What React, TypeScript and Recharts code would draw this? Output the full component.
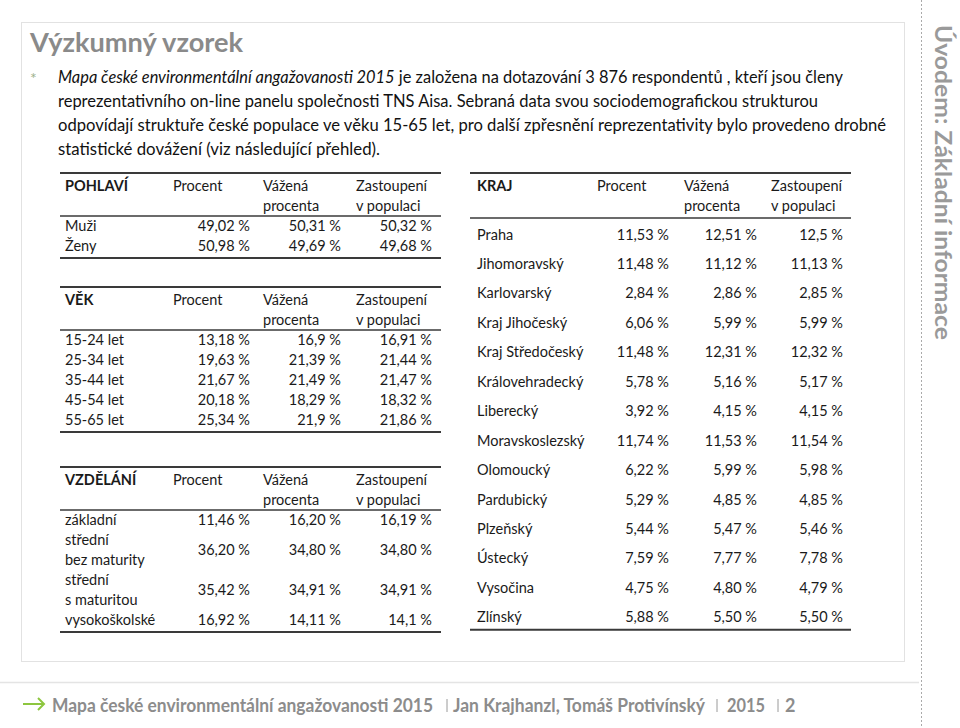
import React from "react";
import { Surface, Layer } from "recharts";

// --- data ---
const HEADER_COLS = [
  ["Procent"],
  ["Vážená", "procenta"],
  ["Zastoupení", "v populaci"],
];

const GENDER_LABELS = [["Muži"], ["Ženy"]];
const GENDER_PCT = ["49,02 %", "50,98 %"];
const GENDER_WEIGHTED = ["50,31 %", "49,69 %"];
const GENDER_POP = ["50,32 %", "49,68 %"];

const AGE_LABELS = [["15-24 let"], ["25-34 let"], ["35-44 let"], ["45-54 let"], ["55-65 let"]];
const AGE_PCT = ["13,18 %", "19,63 %", "21,67 %", "20,18 %", "25,34 %"];
const AGE_WEIGHTED = ["16,9 %", "21,39 %", "21,49 %", "18,29 %", "21,9 %"];
const AGE_POP = ["16,91 %", "21,44 %", "21,47 %", "18,32 %", "21,86 %"];

const EDU_LABELS = [["základní"], ["střední", "bez maturity"], ["střední", "s maturitou"], ["vysokoškolské"]];
const EDU_PCT = ["11,46 %", "36,20 %", "35,42 %", "16,92 %"];
const EDU_WEIGHTED = ["16,20 %", "34,80 %", "34,91 %", "14,11 %"];
const EDU_POP = ["16,19 %", "34,80 %", "34,91 %", "14,1 %"];

const REGION_LABELS = [
  ["Praha"], ["Jihomoravský"], ["Karlovarský"], ["Kraj Jihočeský"], ["Kraj Středočeský"],
  ["Královehradecký"], ["Liberecký"], ["Moravskoslezský"], ["Olomoucký"], ["Pardubický"],
  ["Plzeňský"], ["Ústecký"], ["Vysočina"], ["Zlínský"],
];
const REGION_PCT = ["11,53 %", "11,48 %", "2,84 %", "6,06 %", "11,48 %", "5,78 %", "3,92 %", "11,74 %", "6,22 %", "5,29 %", "5,44 %", "7,59 %", "4,75 %", "5,88 %"];
const REGION_WEIGHTED = ["12,51 %", "11,12 %", "2,86 %", "5,99 %", "12,31 %", "5,16 %", "4,15 %", "11,53 %", "5,99 %", "4,85 %", "5,47 %", "7,77 %", "4,80 %", "5,50 %"];
const REGION_POP = ["12,5 %", "11,13 %", "2,85 %", "5,99 %", "12,32 %", "5,17 %", "4,15 %", "11,54 %", "5,98 %", "4,85 %", "5,46 %", "7,78 %", "4,79 %", "5,50 %"];

const FOOTER_PARTS = ["Mapa české environmentální angažovanosti 2015", "Jan Krajhanzl, Tomáš Protivínský", "2015", "2"];

const FONT = "Lato, 'Noto Sans', sans-serif";
const INK = "#1a1a1a";

type TableProps = {
  title: string;
  top: number;
  x0: number;
  x1: number;
  labelX: number;
  headX: number[];
  valRight: number[];
  labels: string[][];
  cols: string[][];
  headLineGap: number;
  firstRow: number;
  pitch: number;
  lineStep: number;
};

function StatTable(p: TableProps) {
  let cy = p.top + p.firstRow;
  const rows: React.ReactNode[] = [];
  p.labels.forEach((lab, i) => {
    const n = lab.length;
    const mid = cy + ((n - 1) * p.lineStep) / 2;
    rows.push(
      <g key={i}>
        {lab.map((t, j) => (
          <text key={j} x={p.labelX} y={cy + j * p.lineStep} dominantBaseline="central" fill={INK}>
            {t}
          </text>
        ))}
        {p.cols.map((c, k) => (
          <text key={"v" + k} x={p.valRight[k]} y={mid} textAnchor="end" dominantBaseline="central" fill={INK}>
            {c[i]}
          </text>
        ))}
      </g>
    );
    cy += n === 1 ? p.pitch : n * p.lineStep;
  });
  const lastCenter = cy - p.pitch;
  const bottom = lastCenter + 13;
  return (
    <Layer style={{ fontFamily: FONT, fontSize: 14.5 }}>
      <line x1={p.x0} x2={p.x1} y1={p.top} y2={p.top} stroke="#3a3a3a" strokeWidth={2} />
      <text x={p.labelX} y={p.top + 12} dominantBaseline="central" fontWeight={700} fill={INK}>
        {p.title}
      </text>
      {HEADER_COLS.map((h, k) =>
        h.map((t, j) => (
          <text key={k + "-" + j} x={p.headX[k]} y={p.top + 12 + j * 20} dominantBaseline="central" fill={INK}>
            {t}
          </text>
        ))
      )}
      <line x1={p.x0} x2={p.x1} y1={p.top + p.headLineGap} y2={p.top + p.headLineGap} stroke="#3a3a3a" strokeWidth={1.5} />
      {rows}
      <line x1={p.x0} x2={p.x1} y1={bottom} y2={bottom} stroke="#3a3a3a" strokeWidth={2} />
    </Layer>
  );
}

const LEFT = { x0: 60, x1: 441, labelX: 65, headX: [173, 263, 356], valRight: [250, 341, 432], headLineGap: 43, firstRow: 52, pitch: 20, lineStep: 20 };
const RIGHT = { x0: 470, x1: 851, labelX: 477, headX: [597, 684, 771], valRight: [669, 757, 843], headLineGap: 45, firstRow: 61, pitch: 29.45, lineStep: 20 };

// footer pieces: start x, fitted width
const FOOTER_X = [52, 453, 727, 785];
const FOOTER_W = [381, 252, 38, 0];
const FOOTER_SEP = [447, 717, 778];

export default function App() {
  return (
    <div style={{ position: "absolute", left: 0, top: 0, width: 960, height: 728, background: "#fff" }}>
      <Surface width={960} height={728} viewBox={{ x: 0, y: 0, width: 960, height: 728 }}>
        {/* frame */}
        <rect x={21.5} y={22.5} width={883} height={639} fill="none" stroke="#e2e2e2" strokeWidth={1} />
        <line x1={0} x2={919} y1={682.5} y2={682.5} stroke="#e4e4e4" strokeWidth={1.5} />
        <line x1={921.5} x2={921.5} y1={0} y2={728} stroke="#aaaaaa" strokeWidth={1} strokeDasharray="2 2" />

        {/* title */}
        <text x={30} y={52} fontFamily={FONT} fontWeight={700} fontSize={27} fill="#8a8a8a" textLength={213} lengthAdjust="spacingAndGlyphs">
          Výzkumný vzorek
        </text>
        <text x={30} y={84} fontFamily={FONT} fontSize={16} fill="#9db38c">*</text>

        <g fontFamily={FONT} fontSize={17} fill="#111">
          <text x={58} y={83} textLength={785} lengthAdjust="spacingAndGlyphs">
            <tspan fontStyle="italic">Mapa české environmentální angažovanosti 2015</tspan>
            <tspan> je založena na dotazování 3 876 respondentů , kteří jsou členy</tspan>
          </text>
          <text x={58} y={107} textLength={760} lengthAdjust="spacingAndGlyphs">
            reprezentativního on-line panelu společnosti TNS Aisa. Sebraná data svou sociodemografickou strukturou
          </text>
          <text x={58} y={131} textLength={828} lengthAdjust="spacingAndGlyphs">
            odpovídají struktuře české populace ve věku 15-65 let, pro další zpřesnění reprezentativity bylo provedeno drobné
          </text>
          <text x={58} y={155} textLength={322} lengthAdjust="spacingAndGlyphs">
            statistické dovážení (viz následující přehled).
          </text>
        </g>

        <StatTable title="POHLAVÍ" top={173} labels={GENDER_LABELS} cols={[GENDER_PCT, GENDER_WEIGHTED, GENDER_POP]} {...LEFT} />
        <StatTable title="VĚK" top={287} labels={AGE_LABELS} cols={[AGE_PCT, AGE_WEIGHTED, AGE_POP]} {...LEFT} />
        <StatTable title="VZDĚLÁNÍ" top={467} labels={EDU_LABELS} cols={[EDU_PCT, EDU_WEIGHTED, EDU_POP]} {...LEFT} />
        <StatTable title="KRAJ" top={173} labels={REGION_LABELS} cols={[REGION_PCT, REGION_WEIGHTED, REGION_POP]} {...RIGHT} />

        {/* side label */}
        <text
          transform="translate(935,25) rotate(90)"
          fontFamily={FONT}
          fontWeight={700}
          fontSize={22}
          fill="#9a9a9a"
          textLength={315}
          lengthAdjust="spacingAndGlyphs"
        >
          Úvodem: Základní informace
        </text>

        {/* footer */}
        <path d="M23 704 H44 M38 698 L44 704 L38 710" stroke="#8dc63f" strokeWidth={2} fill="none" />
        {FOOTER_PARTS.map((t, i) => (
          <text
            key={i}
            x={FOOTER_X[i]}
            y={712}
            fontFamily={FONT}
            fontWeight={700}
            fontSize={18}
            fill="#8c8c8c"
            textLength={FOOTER_W[i] || undefined}
            lengthAdjust="spacingAndGlyphs"
          >
            {t}
          </text>
        ))}
        {FOOTER_SEP.map((x, i) => (
          <line key={i} x1={x} x2={x} y1={699} y2={712} stroke="#9a9a9a" strokeWidth={1} />
        ))}
      </Surface>
    </div>
  );
}
